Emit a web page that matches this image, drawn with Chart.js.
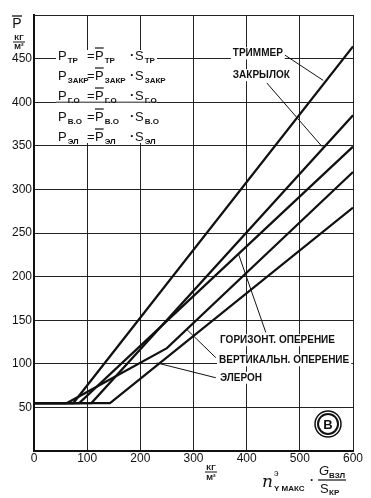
<!DOCTYPE html>
<html>
<head>
<meta charset="utf-8">
<script src="https://cdn.jsdelivr.net/npm/chart.js@4"></script>
<style>
  body { margin: 0; background: #fff; }
  canvas { display: block; }
</style>
</head>
<body>
<canvas id="chart" width="371" height="498"></canvas>
<script>
// x: n_y max * G/S (кг/м²), y: P̄ (кг/м²)
const trimmerX = [0, 74, 600];
const trimmerY = [55, 55, 464];
const flapX = [0, 108, 600];
const flapY = [55, 55, 385];
const horizX = [0, 85, 600];
const horizY = [55, 55, 349];
const vertX = [0, 62, 250, 600];
const vertY = [55, 55, 118, 320];
const aileronX = [0, 143, 600];
const aileronY = [55, 55, 279];

const xTicks = [0, 100, 200, 300, 400, 500, 600];
const yTicks = [50, 100, 150, 200, 250, 300, 350, 400, 450];

// labels on the plot, in data units: [text, x, y]
const labels = [
    ['ТРИММЕР', 374, 456],
    ['ЗАКРЫЛОК', 374, 431],
    ['ГОРИЗОНТ. ОПЕРЕНИЕ', 350, 127],
    ['ВЕРТИКАЛЬН. ОПЕРЕНИЕ', 348, 104],
    ['ЭЛЕРОН', 350, 84]
];
// leader lines, data units: [x1, y1, x2, y2]
const leaders = [
    [472, 454, 544, 425],
    [438, 422, 542, 349],
    [436, 136, 384, 227],
    [342, 107, 288, 139],
    [342, 84, 231, 101]
];
const formulaSubs = ['ТР', 'ЗАКР', 'Г.О', 'В.О', 'ЭЛ'];

function series(xs, ys) {
    return xs.map((x, i) => ({ x: x, y: ys[i] }));
}

function lineSet(xs, ys) {
    return {
        data: series(xs, ys),
        borderColor: '#111',
        borderWidth: 2.2,
        pointRadius: 0,
        showLine: true,
        fill: false,
        tension: 0
    };
}

const bigFont = '13px "Liberation Sans"';
const subFont = 'bold 8px "Liberation Sans"';

// draws a letter with subscript, optional bar on top; returns end x
function drawSym(ctx, ch, x, base, bar, sub) {
    ctx.font = bigFont;
    ctx.fillText(ch, x, base);
    const w = ctx.measureText(ch).width;
    if (bar) {
        ctx.beginPath();
        ctx.moveTo(x, base - 12);
        ctx.lineTo(x + w, base - 12);
        ctx.lineWidth = 1.2;
        ctx.stroke();
    }
    ctx.font = subFont;
    ctx.fillText(sub, x + w + 1, base + 3);
    return x + w + 1 + ctx.measureText(sub).width;
}

const overlay = {
    id: 'overlay',
    afterDraw(chart) {
        const ctx = chart.ctx;
        const xs = chart.scales.x, ys = chart.scales.y;
        const px = v => xs.getPixelForValue(v);
        const py = v => ys.getPixelForValue(v);
        ctx.save();
        ctx.textBaseline = 'alphabetic';

        // formula block
        ctx.fillStyle = '#fff';
        ctx.fillRect(56, 50, 101, 93);
        ctx.strokeStyle = '#222';
        ctx.lineWidth = 1;
        ctx.beginPath();
        ctx.moveTo(56, py(400));
        ctx.lineTo(157, py(400));
        ctx.stroke();
        ctx.fillStyle = '#111';
        ctx.strokeStyle = '#111';
        const bases = [60, 80, 100, 121, 141];
        formulaSubs.forEach((sub, i) => {
            const b = bases[i];
            drawSym(ctx, 'P', 58, b, false, sub);
            ctx.font = bigFont;
            ctx.fillText('=', 87, b);
            const end = drawSym(ctx, 'P', 95, b, true, sub);
            const dx = Math.max(end + 2, 130);
            ctx.font = 'bold 13px "Liberation Sans"';
            ctx.fillText('·', dx, b - 1);
            drawSym(ctx, 'S', dx + 5, b, false, sub);
        });

        // curve labels
        ctx.font = 'bold 10px "Liberation Sans"';
        ctx.textBaseline = 'middle';
        labels.forEach(l => {
            const w = ctx.measureText(l[0]).width;
            ctx.fillStyle = '#fff';
            ctx.fillRect(px(l[1]) - 2, py(l[2]) - 6, w + 4, 12);
            ctx.fillStyle = '#111';
            ctx.fillText(l[0], px(l[1]), py(l[2]));
        });
        ctx.lineWidth = 1;
        leaders.forEach(l => {
            ctx.beginPath();
            ctx.moveTo(px(l[0]), py(l[1]));
            ctx.lineTo(px(l[2]), py(l[3]));
            ctx.stroke();
        });

        // circled letter
        const cx = px(553), cy = py(31);
        ctx.fillStyle = '#fff';
        ctx.beginPath();
        ctx.arc(cx, cy, 13, 0, Math.PI * 2);
        ctx.fill();
        ctx.lineWidth = 1.5;
        ctx.stroke();
        ctx.beginPath();
        ctx.arc(cx, cy, 10, 0, Math.PI * 2);
        ctx.lineWidth = 2;
        ctx.stroke();
        ctx.fillStyle = '#111';
        ctx.font = 'bold 13px "Liberation Sans"';
        ctx.textAlign = 'center';
        ctx.fillText('В', cx, cy + 1);

        // y axis title
        ctx.textBaseline = 'alphabetic';
        ctx.font = '14px "Liberation Sans"';
        ctx.fillText('P', 17, 28);
        ctx.lineWidth = 1.3;
        ctx.beginPath();
        ctx.moveTo(12, 16);
        ctx.lineTo(22, 16);
        ctx.stroke();
        ctx.font = subFont;
        ctx.fillText('КГ', 19, 40);
        ctx.beginPath();
        ctx.moveTo(13, 42);
        ctx.lineTo(25, 42);
        ctx.lineWidth = 1;
        ctx.stroke();
        ctx.fillText('М²', 19, 49);

        // x axis title
        ctx.fillText('КГ', 211, 470);
        ctx.beginPath();
        ctx.moveTo(205, 472);
        ctx.lineTo(217, 472);
        ctx.stroke();
        ctx.fillText('М²', 211, 480);
        ctx.textAlign = 'left';
        ctx.font = 'italic 17px "DejaVu Serif"';
        ctx.fillText('n', 262, 487);
        ctx.font = '9px "Liberation Sans"';
        ctx.fillText('э', 274, 476);
        ctx.font = subFont;
        ctx.fillText('Y МАКС', 274, 491);
        ctx.font = 'bold 12px "Liberation Sans"';
        ctx.fillText('·', 310, 484);
        ctx.font = 'italic 13px "Liberation Sans"';
        ctx.fillText('G', 319, 475);
        ctx.font = subFont;
        ctx.fillText('ВЗЛ', 329, 478);
        ctx.beginPath();
        ctx.moveTo(318, 480);
        ctx.lineTo(346, 480);
        ctx.lineWidth = 1.2;
        ctx.stroke();
        ctx.font = bigFont;
        ctx.fillText('S', 320, 493);
        ctx.font = subFont;
        ctx.fillText('КР', 329, 495);
        ctx.restore();
    }
};

const ctx = document.getElementById('chart').getContext('2d');
new Chart(ctx, {
    type: 'scatter',
    data: {
        datasets: [
            lineSet(trimmerX, trimmerY),
            lineSet(flapX, flapY),
            lineSet(horizX, horizY),
            lineSet(vertX, vertY),
            lineSet(aileronX, aileronY)
        ]
    },
    options: {
        responsive: false,
        animation: false,
        layout: { padding: { left: 0, right: 18, top: 15, bottom: 0 } },
        plugins: { legend: { display: false }, tooltip: { enabled: false } },
        scales: {
            x: {
                type: 'linear',
                min: 0,
                max: 600,
                afterBuildTicks: s => { s.ticks = xTicks.map(v => ({ value: v })); },
                afterFit: s => { s.height = 47; },
                ticks: {
                    color: '#111',
                    font: { family: 'Liberation Sans', size: 12 },
                    padding: 0,
                    maxRotation: 0
                },
                grid: { color: '#222', lineWidth: 1, drawTicks: false },
                border: { color: '#111', width: 2 }
            },
            y: {
                type: 'linear',
                min: 0,
                max: 500,
                afterBuildTicks: s => { s.ticks = [0].concat(yTicks, [500]).map(v => ({ value: v })); },
                afterFit: s => { s.width = 34; },
                ticks: {
                    color: '#111',
                    font: { family: 'Liberation Sans', size: 12 },
                    padding: 2,
                    callback: v => (yTicks.includes(v) ? String(v) : '')
                },
                grid: { color: '#222', lineWidth: 1, drawTicks: false },
                border: { color: '#111', width: 2 }
            }
        }
    },
    plugins: [overlay]
});
</script>
</body>
</html>
